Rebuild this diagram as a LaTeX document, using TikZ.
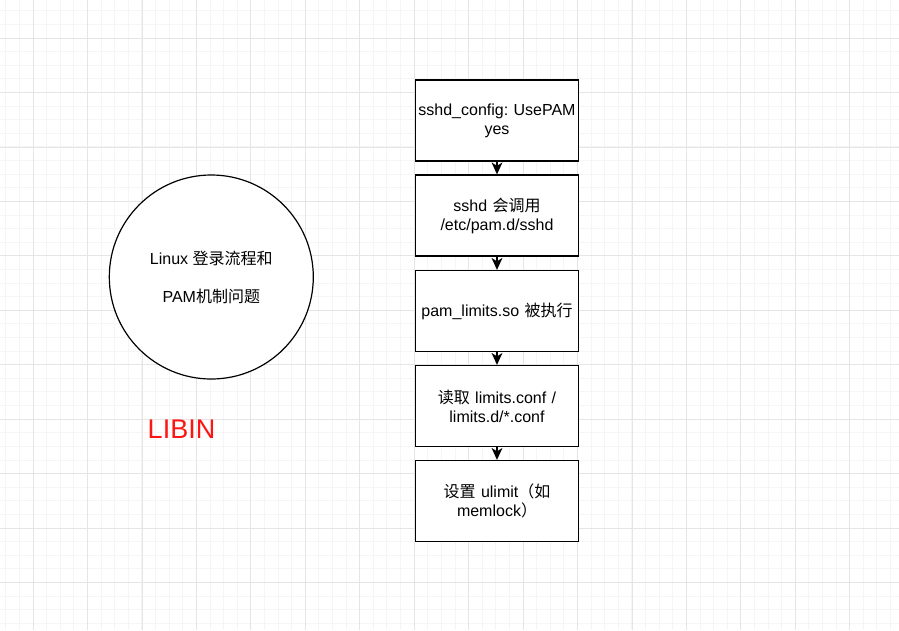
\documentclass[tikz,border=0pt]{standalone}
\usepackage{fontspec}
\setmainfont{Liberation Sans}
\newfontfamily\cjk{Noto Sans CJK SC}
\usepackage{xcolor}
\usetikzlibrary{arrows.meta,positioning}
\definecolor{gridminor}{RGB}{245,245,245}
\definecolor{gridmajor}{RGB}{229,229,229}
\definecolor{signred}{RGB}{255,20,20}
\frenchspacing

\begin{document}
\begin{tikzpicture}[
  x=1pt, y=-1pt,
  font=\fontsize{16}{19}\selectfont,
  stepbox/.style={draw, fill=white, line width=1.3pt, align=center, minimum width=163pt, minimum height=81pt, text width=162pt, inner sep=0pt},
  topic/.style={draw, fill=white, circle, line width=1.2pt, align=center, minimum size=204pt, inner sep=0pt},
  arr/.style={line width=1.4pt, -{Stealth[length=12pt, width=11pt, inset=3.5pt, line width=0pt]}}
]
\useasboundingbox (0,0) rectangle (899,630);
% background grid
\foreach \i in {-2,...,64} {
  \draw[gridminor, line width=0.8pt] ({33+13.61*\i},0) -- ({33+13.61*\i},630);
}
\foreach \i in {-2,...,44} {
  \draw[gridminor, line width=0.8pt] (0,{38+13.61*\i}) -- (899,{38+13.61*\i});
}
\foreach \i in {0,...,16} {
  \draw[gridmajor, line width=0.8pt] ({33+54.45*\i},0) -- ({33+54.45*\i},630);
}
\foreach \i in {-1,...,11} {
  \draw[gridmajor, line width=0.8pt] (0,{38+54.45*\i}) -- (899,{38+54.45*\i});
}

\node[topic] (topic) at (211.3,277) {Linux {\cjk 登录流程和}\\[19pt]PAM{\cjk 机制问题}};
\node[text=signred, font=\fontsize{27}{32}\selectfont] (sign) at (181.5,429) {LIBIN};

\node[stepbox] (cfg) at (497,120.5) {sshd\_config: UsePAM\\yes};
\node[stepbox] (sshd) at (497,215.5) {sshd {\cjk 会调用}\\/etc/pam.d/sshd};
\node[stepbox] (pam) at (497,311) {pam\_limits.so {\cjk 被执行}};
\node[stepbox] (conf) at (497,406) {{\cjk 读取} limits.conf /\\limits.d/*.conf};
\node[stepbox] (ulim) at (497,501) {{\cjk 设置} ulimit{\cjk （如}\\memlock{\cjk ）}};

\draw[arr] (cfg.south) -- (sshd.north);
\draw[arr] (sshd.south) -- (pam.north);
\draw[arr] (pam.south) -- (conf.north);
\draw[arr] (conf.south) -- (ulim.north);
\end{tikzpicture}
\end{document}
